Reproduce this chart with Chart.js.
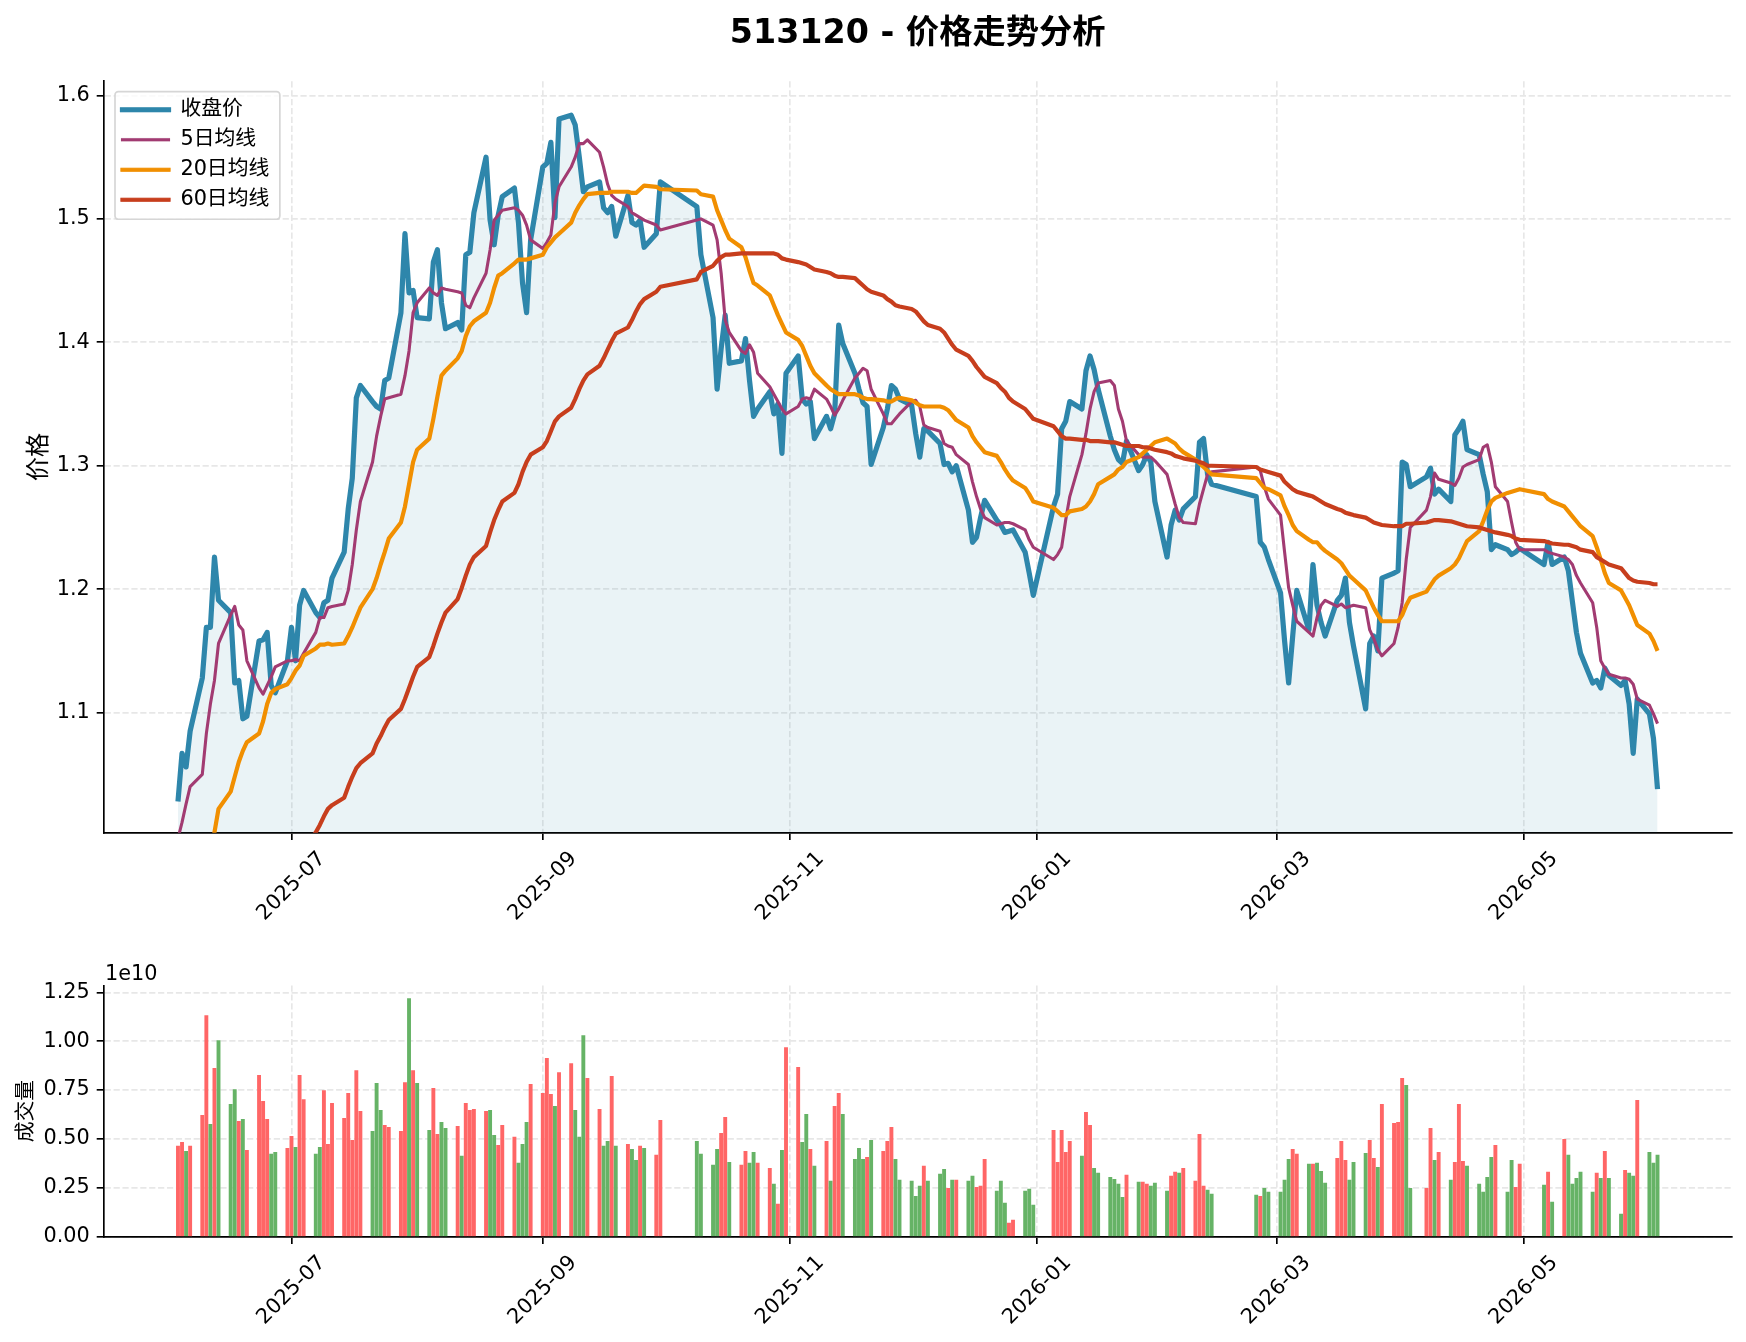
<!DOCTYPE html>
<html lang="zh">
<head>
  <meta charset="UTF-8">
  <title>513120 - 价格走势分析</title>
  <script src="https://cdn.jsdelivr.net/npm/chart.js"></script>
  <style>
    body { margin: 0; background: #fff; }
    .wrap { position: relative; width: 1746px; height: 1342px; }
    #priceChart { position: absolute; left: 0; top: 0; }
    #volChart { position: absolute; left: 0; top: 960px; }
  </style>
</head>
<body>
<div class="wrap">
  <canvas id="priceChart" width="1746" height="960"></canvas>
  <canvas id="volChart" width="1746" height="382"></canvas>
</div>

<script>
  // ---- data ----
  const dates = [
    '2025-06-03','2025-06-04','2025-06-05','2025-06-06','2025-06-09','2025-06-10','2025-06-11','2025-06-12','2025-06-13','2025-06-16','2025-06-17','2025-06-18','2025-06-19','2025-06-20','2025-06-23','2025-06-24','2025-06-25','2025-06-26','2025-06-27','2025-06-30',
    '2025-07-01','2025-07-02','2025-07-03','2025-07-04','2025-07-07','2025-07-08','2025-07-09','2025-07-10','2025-07-11','2025-07-14','2025-07-15','2025-07-16','2025-07-17','2025-07-18','2025-07-21','2025-07-22','2025-07-23','2025-07-24','2025-07-25','2025-07-28','2025-07-29','2025-07-30','2025-07-31',
    '2025-08-01','2025-08-04','2025-08-05','2025-08-06','2025-08-07','2025-08-08','2025-08-11','2025-08-12','2025-08-13','2025-08-14','2025-08-15','2025-08-18','2025-08-19','2025-08-20','2025-08-21','2025-08-22','2025-08-25','2025-08-26','2025-08-27','2025-08-28','2025-08-29',
    '2025-09-01','2025-09-02','2025-09-03','2025-09-04','2025-09-05','2025-09-08','2025-09-09','2025-09-10','2025-09-11','2025-09-12','2025-09-15','2025-09-16','2025-09-17','2025-09-18','2025-09-19','2025-09-22','2025-09-23','2025-09-24','2025-09-25','2025-09-26','2025-09-29','2025-09-30',
    '2025-10-09','2025-10-10','2025-10-13','2025-10-14','2025-10-15','2025-10-16','2025-10-17','2025-10-20','2025-10-21','2025-10-22','2025-10-23','2025-10-24','2025-10-27','2025-10-28','2025-10-29','2025-10-30','2025-10-31',
    '2025-11-03','2025-11-04','2025-11-05','2025-11-06','2025-11-07','2025-11-10','2025-11-11','2025-11-12','2025-11-13','2025-11-14','2025-11-17','2025-11-18','2025-11-19','2025-11-20','2025-11-21','2025-11-24','2025-11-25','2025-11-26','2025-11-27','2025-11-28',
    '2025-12-01','2025-12-02','2025-12-03','2025-12-04','2025-12-05','2025-12-08','2025-12-09','2025-12-10','2025-12-11','2025-12-12','2025-12-15','2025-12-16','2025-12-17','2025-12-18','2025-12-19','2025-12-22','2025-12-23','2025-12-24','2025-12-25','2025-12-26','2025-12-29','2025-12-30','2025-12-31',
    '2026-01-05','2026-01-06','2026-01-07','2026-01-08','2026-01-09','2026-01-12','2026-01-13','2026-01-14','2026-01-15','2026-01-16','2026-01-19','2026-01-20','2026-01-21','2026-01-22','2026-01-23','2026-01-26','2026-01-27','2026-01-28','2026-01-29','2026-01-30',
    '2026-02-02','2026-02-03','2026-02-04','2026-02-05','2026-02-06','2026-02-09','2026-02-10','2026-02-11','2026-02-12','2026-02-13','2026-02-24','2026-02-25','2026-02-26','2026-02-27',
    '2026-03-02','2026-03-03','2026-03-04','2026-03-05','2026-03-06','2026-03-09','2026-03-10','2026-03-11','2026-03-12','2026-03-13','2026-03-16','2026-03-17','2026-03-18','2026-03-19','2026-03-20','2026-03-23','2026-03-24','2026-03-25','2026-03-26','2026-03-27','2026-03-30','2026-03-31',
    '2026-04-01','2026-04-02','2026-04-03','2026-04-07','2026-04-08','2026-04-09','2026-04-10','2026-04-13','2026-04-14','2026-04-15','2026-04-16','2026-04-17','2026-04-20','2026-04-21','2026-04-22','2026-04-23','2026-04-24','2026-04-27','2026-04-28','2026-04-29','2026-04-30',
    '2026-05-06','2026-05-07','2026-05-08','2026-05-11','2026-05-12','2026-05-13','2026-05-14','2026-05-15','2026-05-18','2026-05-19','2026-05-20','2026-05-21','2026-05-22','2026-05-25','2026-05-26','2026-05-27','2026-05-28','2026-05-29',
    '2026-06-01','2026-06-02','2026-06-03'
  ];

  const closePrice = [
    1.028,1.067,1.056,1.085,1.128,1.169,1.169,1.226,1.191,1.181,1.124,1.126,1.095,1.097,1.158,1.159,1.165,1.122,1.116,1.142,
    1.169,1.142,1.187,1.199,1.181,1.177,1.189,1.191,1.209,1.230,1.265,1.290,1.355,1.365,1.352,1.348,1.346,1.369,1.371,1.424,1.488,1.440,1.442,
    1.420,1.419,1.465,1.475,1.432,1.411,1.416,1.410,1.471,1.473,1.505,1.550,1.499,1.479,1.503,1.518,1.525,1.497,1.448,1.424,1.483,
    1.542,1.545,1.562,1.501,1.581,1.584,1.576,1.550,1.522,1.526,1.530,1.509,1.505,1.510,1.486,1.519,1.497,1.495,1.499,1.477,1.488,1.530,
    1.510,1.471,1.420,1.362,1.395,1.422,1.383,1.385,1.403,1.369,1.340,1.346,1.360,1.342,1.350,1.310,1.375,
    1.389,1.354,1.350,1.352,1.322,1.340,1.330,1.342,1.414,1.399,1.375,1.362,1.351,1.348,1.301,1.331,1.346,1.365,1.362,1.354,
    1.349,1.326,1.307,1.330,1.328,1.318,1.301,1.302,1.295,1.300,1.264,1.238,1.242,1.258,1.272,1.256,1.252,1.246,1.247,1.248,1.230,1.213,1.195,
    1.267,1.277,1.330,1.336,1.352,1.346,1.377,1.389,1.378,1.362,1.324,1.313,1.305,1.302,1.320,1.296,1.301,1.309,1.303,1.271,
    1.226,1.252,1.264,1.256,1.265,1.275,1.319,1.322,1.293,1.285,1.275,1.238,1.234,1.224,
    1.197,1.158,1.124,1.162,1.199,1.167,1.220,1.187,1.173,1.162,1.191,1.195,1.209,1.173,1.154,1.103,1.156,1.162,1.150,1.209,1.213,1.215,
    1.303,1.301,1.283,1.291,1.298,1.277,1.281,1.271,1.325,1.330,1.336,1.313,1.309,1.293,1.279,1.232,1.236,1.232,1.228,1.230,1.233,
    1.220,1.238,1.220,1.226,1.215,1.190,1.165,1.148,1.124,1.126,1.120,1.136,1.130,1.122,1.126,1.107,1.067,1.111,
    1.099,1.079,1.038
  ];

  const ma5 = [
    0.998,1.011,1.026,1.040,1.050,1.083,1.107,1.126,1.156,1.179,1.186,1.171,1.167,1.142,1.120,1.115,1.122,1.129,1.137,1.142,
    1.142,1.143,1.142,1.148,1.165,1.177,1.177,1.185,1.186,1.188,1.199,1.220,1.248,1.271,1.303,1.324,1.340,1.354,1.355,1.358,1.373,1.393,1.424,
    1.432,1.444,1.440,1.438,1.444,1.443,1.441,1.440,1.430,1.428,1.436,1.456,1.475,1.499,1.503,1.507,1.509,1.507,1.503,1.495,1.483,
    1.476,1.481,1.487,1.513,1.526,1.542,1.550,1.561,1.561,1.564,1.554,1.542,1.528,1.519,1.516,1.510,1.505,1.503,1.501,1.499,1.495,1.491,
    1.499,1.500,1.495,1.483,1.456,1.418,1.408,1.393,1.391,1.398,1.392,1.375,1.364,1.358,1.352,1.346,1.342,
    1.348,1.354,1.355,1.354,1.362,1.354,1.348,1.341,1.346,1.353,1.371,1.375,1.379,1.377,1.362,1.342,1.334,1.334,1.338,1.342,
    1.352,1.353,1.348,1.333,1.331,1.328,1.318,1.316,1.315,1.309,1.301,1.287,1.275,1.265,1.258,1.252,1.253,1.254,1.254,1.253,1.248,1.240,1.234,
    1.224,1.228,1.234,1.256,1.275,1.309,1.326,1.346,1.360,1.367,1.369,1.365,1.346,1.336,1.320,1.309,1.307,1.307,1.307,1.304,
    1.293,1.281,1.269,1.258,1.254,1.253,1.269,1.281,1.293,1.295,1.299,1.296,1.283,1.273,
    1.260,1.230,1.201,1.187,1.174,1.165,1.162,1.177,1.187,1.191,1.186,1.188,1.185,1.186,1.187,1.185,1.167,1.160,1.151,1.146,1.156,1.169,
    1.189,1.224,1.250,1.264,1.275,1.294,1.289,1.286,1.284,1.290,1.299,1.301,1.305,1.315,1.317,1.303,1.283,1.271,1.254,1.238,1.232,
    1.232,1.230,1.229,1.226,1.224,1.220,1.211,1.205,1.189,1.169,1.142,1.136,1.131,1.128,1.128,1.127,1.123,1.111,
    1.106,1.099,1.091
  ];

  const ma20 = [
    null,null,null,null,null,null,0.985,1.003,1.022,1.036,1.048,1.060,1.069,1.076,1.083,1.093,1.107,1.116,1.119,1.123,
    1.128,1.134,1.138,1.146,1.152,1.155,1.155,1.156,1.155,1.156,1.162,1.169,1.177,1.185,1.200,1.209,1.220,1.230,1.241,1.254,1.267,1.285,1.303,
    1.313,1.322,1.338,1.356,1.373,1.377,1.387,1.393,1.405,1.413,1.417,1.424,1.432,1.444,1.454,1.456,1.464,1.467,1.467,1.467,1.468,
    1.471,1.477,1.481,1.485,1.488,1.497,1.505,1.511,1.516,1.520,1.521,1.521,1.521,1.522,1.522,1.522,1.521,1.521,1.524,1.527,1.526,1.524,
    1.523,1.520,1.518,1.507,1.499,1.491,1.484,1.477,1.469,1.458,1.448,1.446,1.438,1.430,1.422,1.415,1.408,
    1.402,1.397,1.389,1.381,1.375,1.365,1.362,1.360,1.358,1.358,1.358,1.357,1.355,1.354,1.354,1.353,1.352,1.352,1.354,1.355,
    1.353,1.351,1.349,1.348,1.348,1.348,1.347,1.345,1.341,1.337,1.331,1.324,1.319,1.315,1.311,1.308,1.303,1.297,1.292,1.288,1.282,1.277,1.271,
    1.266,1.263,1.260,1.260,1.263,1.265,1.267,1.271,1.277,1.285,1.291,1.293,1.297,1.299,1.303,1.307,1.310,1.313,1.316,1.319,
    1.322,1.320,1.318,1.314,1.311,1.305,1.302,1.299,1.296,1.293,1.290,1.286,1.282,1.281,
    1.276,1.267,1.260,1.252,1.247,1.240,1.238,1.238,1.234,1.231,1.224,1.221,1.216,1.211,1.208,1.199,1.192,1.185,1.179,1.174,1.174,1.174,
    1.179,1.187,1.193,1.198,1.203,1.208,1.211,1.217,1.220,1.225,1.232,1.239,1.247,1.255,1.264,1.271,1.274,1.278,1.279,1.280,1.281,
    1.277,1.273,1.271,1.267,1.263,1.259,1.255,1.251,1.243,1.234,1.224,1.213,1.205,1.199,1.193,1.187,1.179,1.171,
    1.164,1.158,1.150
  ];

  const ma60 = [
    null,null,null,null,null,null,null,null,null,null,null,null,null,null,null,null,null,null,null,null,
    null,null,null,0.990,1.003,1.009,1.016,1.022,1.025,1.031,1.040,1.048,1.055,1.059,1.067,1.075,1.081,1.088,1.094,1.103,1.111,1.120,1.129,
    1.137,1.145,1.154,1.164,1.173,1.181,1.192,1.201,1.211,1.220,1.226,1.235,1.246,1.256,1.264,1.271,1.278,1.285,1.295,1.303,1.309,
    1.315,1.320,1.328,1.336,1.340,1.347,1.354,1.362,1.369,1.374,1.381,1.387,1.394,1.401,1.407,1.412,1.418,1.425,1.431,1.435,1.441,1.445,
    1.451,1.457,1.462,1.466,1.469,1.471,1.471,1.472,1.472,1.472,1.472,1.472,1.472,1.472,1.471,1.468,1.467,
    1.465,1.464,1.463,1.461,1.459,1.457,1.456,1.454,1.453,1.453,1.452,1.449,1.446,1.443,1.441,1.438,1.435,1.433,1.430,1.429,
    1.427,1.425,1.421,1.417,1.414,1.411,1.408,1.403,1.398,1.394,1.389,1.385,1.380,1.376,1.372,1.367,1.363,1.360,1.355,1.352,1.346,1.342,1.338,
    1.332,1.328,1.324,1.322,1.322,1.321,1.321,1.320,1.320,1.320,1.319,1.319,1.318,1.317,1.316,1.316,1.315,1.315,1.314,1.313,
    1.311,1.310,1.308,1.307,1.306,1.304,1.303,1.302,1.300,1.300,1.299,1.297,1.296,1.295,
    1.292,1.287,1.284,1.281,1.279,1.276,1.275,1.273,1.271,1.269,1.265,1.264,1.262,1.261,1.260,1.258,1.256,1.254,1.253,1.252,1.251,1.251,
    1.251,1.253,1.253,1.254,1.255,1.256,1.256,1.255,1.254,1.253,1.252,1.251,1.250,1.249,1.248,1.247,1.246,1.244,1.243,1.241,1.240,
    1.239,1.238,1.237,1.236,1.236,1.235,1.234,1.232,1.230,1.226,1.224,1.222,1.220,1.217,1.213,1.209,1.207,1.206,
    1.205,1.204,1.204
  ];

  // 成交量, in units of 1e10
  const volume = [
    0.463,0.483,0.437,0.463,0.621,1.131,0.575,0.861,1.003,0.677,0.753,0.590,0.600,0.442,0.825,0.692,0.600,0.422,0.432,0.452,
    0.514,0.457,0.825,0.702,0.422,0.457,0.748,0.473,0.682,0.605,0.733,0.493,0.850,0.641,0.539,0.784,0.646,0.570,0.560,0.539,0.789,1.218,0.850,
    0.784,0.544,0.759,0.524,0.585,0.554,0.565,0.412,0.682,0.646,0.651,0.641,0.646,0.519,0.468,0.570,0.509,0.376,0.473,0.585,0.779,
    0.733,0.912,0.728,0.667,0.840,0.886,0.646,0.509,1.029,0.810,0.651,0.463,0.488,0.820,0.463,0.473,0.447,0.391,0.463,0.452,0.417,0.595,
    0.488,0.422,0.366,0.447,0.529,0.611,0.381,0.366,0.437,0.376,0.432,0.376,0.350,0.269,0.167,0.442,0.968,
    0.866,0.483,0.626,0.447,0.361,0.488,0.284,0.667,0.733,0.626,0.396,0.452,0.396,0.406,0.493,0.437,0.488,0.560,0.396,0.289,
    0.284,0.207,0.259,0.361,0.284,0.320,0.345,0.248,0.289,0.289,0.284,0.310,0.253,0.259,0.396,0.233,0.284,0.172,0.070,0.085,0.233,0.243,0.162,
    0.544,0.381,0.544,0.432,0.488,0.412,0.636,0.570,0.350,0.325,0.304,0.294,0.269,0.202,0.315,0.279,0.279,0.269,0.259,0.274,
    0.233,0.310,0.330,0.325,0.350,0.284,0.524,0.259,0.238,0.218,0.213,0.207,0.248,0.228,
    0.228,0.289,0.396,0.447,0.422,0.371,0.371,0.376,0.335,0.274,0.401,0.488,0.391,0.289,0.381,0.427,0.493,0.401,0.355,0.677,0.580,0.585,
    0.810,0.774,0.248,0.248,0.554,0.391,0.432,0.289,0.381,0.677,0.386,0.361,0.269,0.228,0.304,0.406,0.468,0.228,0.391,0.253,0.371,
    0.264,0.330,0.177,0.498,0.417,0.269,0.299,0.330,0.228,0.325,0.299,0.437,0.299,0.116,0.340,0.325,0.310,0.697,
    0.432,0.376,0.417
  ];

  // 1 = up day (red bar), 0 = down day (green bar)
  const volUp = [
    1,1,0,1,1,1,0,1,0,0,0,1,0,1,1,1,1,0,0,1,
    1,0,1,1,0,0,1,1,1,1,1,1,1,1,0,0,0,1,1,1,1,0,1,
    0,0,1,1,0,0,1,0,1,1,1,1,0,0,1,1,1,0,0,0,1,
    1,1,1,0,1,1,0,0,0,1,1,0,0,1,0,1,0,0,1,0,1,1,
    0,0,0,0,1,1,0,1,1,0,0,1,1,0,1,0,1,
    1,0,0,1,0,1,0,1,1,0,0,0,0,1,0,1,1,1,0,0,
    0,0,0,1,0,0,0,1,0,1,0,0,1,1,1,0,0,0,1,1,0,0,0,
    1,1,1,1,1,0,1,1,0,0,0,0,0,0,1,0,1,1,0,0,
    0,1,1,0,1,1,1,1,0,0,0,1,0,0,
    0,0,0,1,1,0,1,0,0,0,1,1,1,0,0,0,1,1,0,1,1,1,
    1,0,0,1,1,0,1,0,1,1,1,0,0,0,0,0,1,0,0,1,1,
    0,1,0,1,0,0,0,0,0,1,0,1,0,0,1,0,0,1,
    0,0,0
  ];

  const seriesNames = ['收盘价', '5日均线', '20日均线', '60日均线'];
  const tickMonths = ['2025-07', '2025-09', '2025-11', '2026-01', '2026-03', '2026-05'];
  const priceTicks = [1.1, 1.2, 1.3, 1.4, 1.5, 1.6];
  const volTicks = [0, 0.25, 0.5, 0.75, 1.0, 1.25];

  // ---- look ----
  const FONT = "'DejaVu Sans', 'Noto Sans CJK SC', sans-serif";
  Chart.defaults.font.family = FONT;
  Chart.defaults.color = '#000';
  Chart.defaults.animation = false;

  const INK = '#000';
  const GRID = '#e7e7e7';
  const TICK_FONT = { size: 20.8 };

  const day = s => Date.parse(s + 'T00:00:00Z') / 864e5;
  const xs = dates.map(day);
  const xMin = xs[0] - 18.25;
  const xMax = xs[xs.length - 1] + 18.25;
  const pts = arr => arr.map((v, i) => ({ x: xs[i], y: v }));

  function xAxis(axisHeight) {
    return {
      type: 'linear',
      min: xMin,
      max: xMax,
      offset: false,
      afterBuildTicks: s => { s.ticks = tickMonths.map(m => ({ value: day(m + '-01') })); },
      afterFit: s => { s.height = axisHeight; },
      ticks: {
        autoSkip: false, minRotation: 45, maxRotation: 45,
        labelOffset: 30.7, padding: 6.8, font: TICK_FONT, color: INK,
        callback: (v, i) => tickMonths[i]
      },
      grid: { offset: false, color: GRID, lineWidth: 1.67, tickColor: INK, tickLength: 7.3, tickWidth: 1.67 },
      border: { color: INK, width: 1.67, dash: [6.2, 2.7] }
    };
  }

  function yAxis(min, max, ticks, digits, title, titleSize, titlePad) {
    return {
      type: 'linear',
      min: min,
      max: max,
      afterBuildTicks: s => { s.ticks = ticks.map(v => ({ value: v })); },
      afterFit: s => { s.width = 104; },
      ticks: { font: TICK_FONT, color: INK, padding: 6.9, callback: v => v.toFixed(digits) },
      grid: { color: GRID, lineWidth: 1.67, tickColor: INK, tickLength: 7.3, tickWidth: 1.67 },
      border: { color: INK, width: 1.67, dash: [6.2, 2.7] },
      title: { display: true, text: title, color: INK, font: { size: titleSize }, padding: { top: titlePad, bottom: 0 } }
    };
  }

  // legend sits inside the plot, with a matplotlib style frame around it
  const legendFrame = {
    id: 'legendFrame',
    afterLayout(chart) {
      const lg = chart.legend;
      lg.left = chart.chartArea.left + 7.8;
      lg.top = chart.chartArea.top + 8.9;
    },
    afterDatasetsDraw(chart) {
      const lg = chart.legend;
      const ctx = chart.ctx;
      const lab = lg.options.labels;
      const fs = lab.font.size;
      ctx.save();
      ctx.font = fs + 'px ' + FONT;
      const textStart = lg.left + lab.padding + lab.boxWidth + fs / 2;
      const widest = Math.max(...seriesNames.map(t => ctx.measureText(t).width));
      const x0 = chart.chartArea.left + 11;
      const y0 = chart.chartArea.top + 10.4;
      const w = textStart + widest + 10.6 - x0;
      const h = 127.6;
      ctx.beginPath();
      ctx.roundRect(x0, y0, w, h, 3.3);
      ctx.fillStyle = 'rgba(255,255,255,0.8)';
      ctx.fill();
      ctx.lineWidth = 1.67;
      ctx.strokeStyle = '#d6d6d6';
      ctx.stroke();
      ctx.restore();
      lg.draw();
    }
  };

  new Chart(document.getElementById('priceChart'), {
    type: 'line',
    data: {
      datasets: [
        { label: seriesNames[0], data: pts(closePrice), borderColor: '#2E86AB', borderWidth: 5.2,
          fill: 'start', backgroundColor: 'rgba(46,134,171,0.1)', order: 3 },
        { label: seriesNames[1], data: pts(ma5), borderColor: '#A23B72', borderWidth: 3.1, fill: false, order: 2 },
        { label: seriesNames[2], data: pts(ma20), borderColor: '#F18F01', borderWidth: 4.2, fill: false, order: 1 },
        { label: seriesNames[3], data: pts(ma60), borderColor: '#C73E1D', borderWidth: 4.2, fill: false, order: 0 }
      ]
    },
    options: {
      responsive: false,
      parsing: true,
      clip: 0,
      elements: {
        point: { radius: 0 },
        line: { tension: 0, borderJoinStyle: 'round', borderCapStyle: 'butt' }
      },
      layout: { padding: { left: 0, right: 14.5, top: 0, bottom: 0 } },
      scales: {
        x: xAxis(960 - 832.7),
        y: yAxis(1.0027, 1.6115, priceTicks, 1, '价格', 24, 25)
      },
      plugins: {
        tooltip: { enabled: false },
        title: {
          display: true, fullSize: false,
          text: '513120 - 价格走势分析',
          color: INK,
          font: { size: 33.3, weight: 'bold' },
          padding: { top: 14, bottom: 27.3 }
        },
        legend: {
          position: 'chartArea',
          align: 'start',
          labels: {
            boxWidth: 49, boxHeight: 3, padding: 9.2,
            font: { size: 20.8 }, color: INK,
            generateLabels: chart => chart.data.datasets.map((ds, i) => ({
              text: ds.label, fillStyle: ds.borderColor, strokeStyle: ds.borderColor,
              lineWidth: Math.max(ds.borderWidth - 3, 0), hidden: false, datasetIndex: i, fontColor: INK
            }))
          }
        }
      }
    },
    plugins: [legendFrame]
  });

  // "1e10" offset label above the volume axis
  const offsetLabel = {
    id: 'offsetLabel',
    afterDraw(chart) {
      const ctx = chart.ctx;
      ctx.save();
      ctx.font = '20.8px ' + FONT;
      ctx.fillStyle = INK;
      ctx.textBaseline = 'alphabetic';
      ctx.fillText('1e10', chart.chartArea.left + 1, chart.chartArea.top - 5.5);
      ctx.restore();
    }
  };

  new Chart(document.getElementById('volChart'), {
    type: 'bar',
    data: {
      datasets: [{
        label: '成交量',
        data: pts(volume),
        backgroundColor: volUp.map(u => u ? '#ff6666' : '#66b366'),
        borderWidth: 0,
        barThickness: 3.24
      }]
    },
    options: {
      responsive: false,
      layout: { padding: { left: 0, right: 14.5, top: 25.5, bottom: 0 } },
      scales: {
        x: xAxis(382 - 276.7),
        y: yAxis(0, 1.285, volTicks, 2, '成交量', 20.8, 14.2)
      },
      plugins: {
        tooltip: { enabled: false },
        legend: { display: false },
        title: { display: false }
      }
    },
    plugins: [offsetLabel]
  });
</script>
</body>
</html>
